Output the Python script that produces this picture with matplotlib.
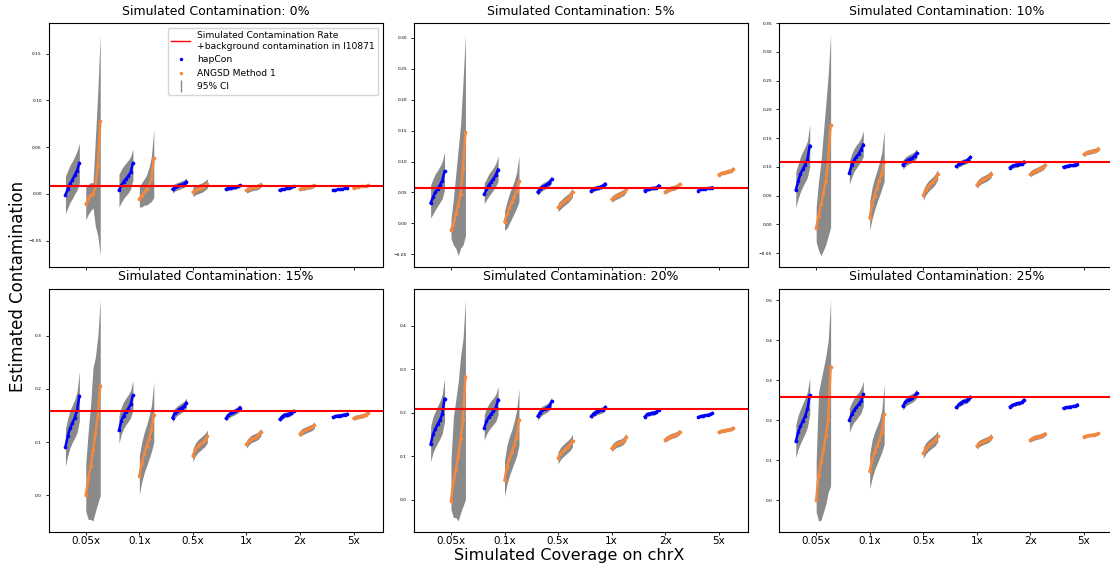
import numpy as np
import matplotlib
matplotlib.use("Agg")
import matplotlib.pyplot as plt
from matplotlib.lines import Line2D

coverages = ["0.05x", "0.1x", "0.5x", "1x", "2x", "5x"]
contamination = [0, 5, 10, 15, 20, 25]
background = 0.008  # background contamination in I10871

# sorted estimates / 95% CI read at 7 evenly spaced positions in each cluster
# one row per coverage

# ---- 0% ----
hap_est_0 = [[-0.001, 0.005, 0.011, 0.015, 0.020, 0.025, 0.033],
             [0.004, 0.009, 0.013, 0.016, 0.019, 0.023, 0.033],
             [0.005, 0.007, 0.008, 0.009, 0.010, 0.011, 0.013],
             [0.005, 0.006, 0.006, 0.007, 0.007, 0.008, 0.009],
             [0.004, 0.005, 0.005, 0.006, 0.006, 0.007, 0.008],
             [0.004, 0.004, 0.005, 0.005, 0.005, 0.006, 0.006]]
hap_lo_0 = [[-0.021, -0.015, -0.009, -0.005, 0.000, 0.004, 0.012],
            [-0.014, -0.009, -0.005, -0.002, 0.001, 0.005, 0.015],
            [0.001, 0.003, 0.004, 0.005, 0.006, 0.007, 0.009],
            [0.003, 0.004, 0.004, 0.005, 0.005, 0.006, 0.007],
            [0.0025, 0.0035, 0.0035, 0.0045, 0.0045, 0.0055, 0.0065],
            [0.003, 0.003, 0.004, 0.004, 0.004, 0.005, 0.005]]
hap_hi_0 = [[0.019, 0.025, 0.031, 0.035, 0.040, 0.046, 0.054],
            [0.021, 0.026, 0.030, 0.033, 0.036, 0.040, 0.048],
            [0.009, 0.011, 0.012, 0.013, 0.014, 0.015, 0.017],
            [0.007, 0.008, 0.008, 0.009, 0.009, 0.010, 0.011],
            [0.0055, 0.0065, 0.0065, 0.0075, 0.0075, 0.0085, 0.0095],
            [0.005, 0.005, 0.006, 0.006, 0.006, 0.007, 0.007]]
ang_est_0 = [[-0.011, -0.006, -0.001, 0.000, 0.008, 0.030, 0.078],
             [-0.005, -0.002, 0.002, 0.005, 0.009, 0.016, 0.038],
             [0.002, 0.004, 0.005, 0.006, 0.007, 0.009, 0.011],
             [0.004, 0.005, 0.006, 0.007, 0.007, 0.008, 0.010],
             [0.005, 0.006, 0.006, 0.007, 0.007, 0.008, 0.009],
             [0.006, 0.007, 0.007, 0.008, 0.008, 0.008, 0.009]]
ang_lo_0 = [[-0.028, -0.022, -0.018, -0.015, -0.035, -0.045, -0.066],
            [-0.014, -0.014, -0.012, -0.012, -0.010, -0.008, -0.004],
            [-0.003, -0.001, 0.000, 0.001, 0.002, 0.004, 0.006],
            [0.001, 0.002, 0.003, 0.004, 0.004, 0.005, 0.007],
            [0.003, 0.004, 0.004, 0.005, 0.005, 0.006, 0.007],
            [0.005, 0.006, 0.006, 0.007, 0.007, 0.007, 0.008]]
ang_hi_0 = [[0.009, 0.010, 0.012, 0.012, 0.060, 0.110, 0.171],
            [0.008, 0.012, 0.016, 0.020, 0.028, 0.040, 0.069],
            [0.007, 0.009, 0.010, 0.011, 0.012, 0.014, 0.016],
            [0.007, 0.008, 0.009, 0.010, 0.010, 0.011, 0.013],
            [0.007, 0.008, 0.008, 0.009, 0.009, 0.010, 0.011],
            [0.007, 0.008, 0.008, 0.009, 0.009, 0.009, 0.010]]

# ---- 5% ----
hap_est_5 = [[0.033, 0.042, 0.050, 0.056, 0.062, 0.069, 0.084],
             [0.047, 0.055, 0.062, 0.067, 0.072, 0.078, 0.087],
             [0.051, 0.056, 0.059, 0.061, 0.063, 0.066, 0.071],
             [0.053, 0.056, 0.057, 0.058, 0.059, 0.061, 0.064],
             [0.053, 0.055, 0.056, 0.057, 0.057, 0.058, 0.061],
             [0.053, 0.055, 0.056, 0.056, 0.057, 0.057, 0.058]]
hap_lo_5 = [[0.009, 0.015, 0.022, 0.028, 0.034, 0.040, 0.055],
            [0.032, 0.038, 0.044, 0.049, 0.054, 0.060, 0.068],
            [0.045, 0.050, 0.053, 0.055, 0.057, 0.060, 0.065],
            [0.049, 0.052, 0.053, 0.054, 0.055, 0.057, 0.060],
            [0.050, 0.052, 0.053, 0.054, 0.054, 0.055, 0.058],
            [0.051, 0.053, 0.054, 0.054, 0.055, 0.055, 0.056]]
hap_hi_5 = [[0.062, 0.072, 0.080, 0.086, 0.092, 0.100, 0.115],
            [0.065, 0.072, 0.080, 0.085, 0.090, 0.097, 0.109],
            [0.057, 0.062, 0.065, 0.067, 0.069, 0.072, 0.077],
            [0.057, 0.060, 0.061, 0.062, 0.063, 0.065, 0.068],
            [0.056, 0.058, 0.059, 0.060, 0.060, 0.061, 0.064],
            [0.055, 0.057, 0.058, 0.058, 0.059, 0.059, 0.060]]
ang_est_5 = [[-0.010, -0.002, 0.015, 0.030, 0.048, 0.090, 0.147],
             [0.003, 0.015, 0.025, 0.034, 0.043, 0.053, 0.068],
             [0.026, 0.030, 0.034, 0.037, 0.040, 0.044, 0.050],
             [0.039, 0.042, 0.044, 0.046, 0.048, 0.050, 0.055],
             [0.051, 0.054, 0.056, 0.057, 0.058, 0.060, 0.063],
             [0.079, 0.081, 0.082, 0.083, 0.084, 0.085, 0.088]]
ang_lo_5 = [[-0.024, -0.035, -0.040, -0.052, -0.040, -0.035, -0.020],
            [-0.011, -0.008, 0.000, 0.008, 0.016, 0.025, 0.035],
            [0.019, 0.023, 0.027, 0.030, 0.033, 0.037, 0.043],
            [0.034, 0.037, 0.039, 0.041, 0.043, 0.045, 0.050],
            [0.047, 0.050, 0.052, 0.053, 0.054, 0.056, 0.059],
            [0.076, 0.078, 0.079, 0.080, 0.081, 0.082, 0.085]]
ang_hi_5 = [[0.006, 0.040, 0.080, 0.120, 0.160, 0.230, 0.306],
            [0.020, 0.035, 0.048, 0.058, 0.068, 0.082, 0.109],
            [0.033, 0.037, 0.041, 0.044, 0.047, 0.051, 0.057],
            [0.044, 0.047, 0.049, 0.051, 0.053, 0.055, 0.060],
            [0.055, 0.058, 0.060, 0.061, 0.062, 0.064, 0.067],
            [0.082, 0.084, 0.085, 0.086, 0.087, 0.088, 0.091]]

# ---- 10% ----
hap_est_10 = [[0.060, 0.075, 0.088, 0.096, 0.104, 0.113, 0.137],
              [0.090, 0.103, 0.112, 0.118, 0.123, 0.130, 0.139],
              [0.104, 0.109, 0.112, 0.114, 0.116, 0.119, 0.124],
              [0.101, 0.105, 0.107, 0.109, 0.110, 0.113, 0.117],
              [0.099, 0.102, 0.103, 0.104, 0.105, 0.106, 0.109],
              [0.100, 0.101, 0.102, 0.103, 0.103, 0.104, 0.105]]
hap_lo_10 = [[0.030, 0.045, 0.057, 0.066, 0.074, 0.082, 0.100],
             [0.070, 0.082, 0.092, 0.098, 0.104, 0.110, 0.118],
             [0.096, 0.101, 0.104, 0.106, 0.108, 0.111, 0.116],
             [0.096, 0.100, 0.102, 0.104, 0.105, 0.108, 0.112],
             [0.095, 0.098, 0.099, 0.100, 0.101, 0.102, 0.105],
             [0.097, 0.098, 0.099, 0.100, 0.100, 0.101, 0.102]]
hap_hi_10 = [[0.092, 0.105, 0.118, 0.127, 0.135, 0.145, 0.174],
             [0.110, 0.123, 0.132, 0.138, 0.143, 0.150, 0.163],
             [0.112, 0.117, 0.120, 0.122, 0.124, 0.127, 0.132],
             [0.106, 0.110, 0.112, 0.114, 0.115, 0.118, 0.122],
             [0.103, 0.106, 0.107, 0.108, 0.109, 0.110, 0.113],
             [0.103, 0.104, 0.105, 0.106, 0.106, 0.107, 0.108]]
ang_est_10 = [[-0.006, 0.015, 0.035, 0.055, 0.075, 0.110, 0.173],
              [0.012, 0.035, 0.050, 0.063, 0.075, 0.090, 0.109],
              [0.051, 0.060, 0.066, 0.070, 0.074, 0.079, 0.087],
              [0.069, 0.074, 0.077, 0.079, 0.081, 0.084, 0.088],
              [0.088, 0.091, 0.093, 0.095, 0.097, 0.099, 0.103],
              [0.122, 0.125, 0.126, 0.127, 0.128, 0.129, 0.132]]
ang_lo_10 = [[-0.030, -0.045, -0.054, -0.045, -0.035, -0.020, -0.005],
             [-0.010, 0.010, 0.025, 0.038, 0.050, 0.062, 0.075],
             [0.042, 0.051, 0.057, 0.061, 0.065, 0.070, 0.078],
             [0.063, 0.068, 0.071, 0.073, 0.075, 0.078, 0.082],
             [0.083, 0.086, 0.088, 0.090, 0.092, 0.094, 0.098],
             [0.118, 0.121, 0.122, 0.123, 0.124, 0.125, 0.128]]
ang_hi_10 = [[0.030, 0.075, 0.110, 0.160, 0.210, 0.260, 0.331],
             [0.040, 0.065, 0.080, 0.093, 0.108, 0.125, 0.163],
             [0.060, 0.069, 0.075, 0.079, 0.083, 0.088, 0.096],
             [0.075, 0.080, 0.083, 0.085, 0.087, 0.090, 0.094],
             [0.093, 0.096, 0.098, 0.100, 0.102, 0.104, 0.108],
             [0.126, 0.129, 0.130, 0.131, 0.132, 0.133, 0.136]]

# ---- 15% ----
hap_est_15 = [[0.091, 0.112, 0.126, 0.136, 0.146, 0.160, 0.187],
              [0.122, 0.140, 0.150, 0.157, 0.163, 0.171, 0.188],
              [0.146, 0.155, 0.159, 0.162, 0.165, 0.168, 0.174],
              [0.145, 0.151, 0.154, 0.156, 0.158, 0.161, 0.165],
              [0.143, 0.148, 0.151, 0.152, 0.153, 0.155, 0.158],
              [0.147, 0.149, 0.150, 0.150, 0.151, 0.152, 0.153]]
hap_lo_15 = [[0.055, 0.075, 0.090, 0.100, 0.108, 0.118, 0.140],
             [0.098, 0.115, 0.126, 0.133, 0.139, 0.146, 0.160],
             [0.137, 0.146, 0.150, 0.153, 0.156, 0.159, 0.165],
             [0.139, 0.145, 0.148, 0.150, 0.152, 0.155, 0.159],
             [0.138, 0.143, 0.146, 0.147, 0.148, 0.150, 0.153],
             [0.144, 0.146, 0.147, 0.147, 0.148, 0.149, 0.150]]
hap_hi_15 = [[0.125, 0.145, 0.160, 0.170, 0.180, 0.195, 0.233],
             [0.150, 0.166, 0.176, 0.183, 0.189, 0.197, 0.216],
             [0.155, 0.164, 0.168, 0.171, 0.174, 0.177, 0.183],
             [0.151, 0.157, 0.160, 0.162, 0.164, 0.167, 0.171],
             [0.148, 0.153, 0.156, 0.157, 0.158, 0.160, 0.163],
             [0.150, 0.152, 0.153, 0.153, 0.154, 0.155, 0.156]]
ang_est_15 = [[0.000, 0.030, 0.055, 0.085, 0.115, 0.150, 0.206],
              [0.037, 0.060, 0.078, 0.092, 0.106, 0.122, 0.152],
              [0.075, 0.086, 0.092, 0.096, 0.100, 0.104, 0.111],
              [0.096, 0.102, 0.106, 0.108, 0.110, 0.113, 0.119],
              [0.116, 0.120, 0.122, 0.124, 0.126, 0.128, 0.132],
              [0.145, 0.147, 0.148, 0.149, 0.150, 0.152, 0.155]]
ang_lo_15 = [[-0.030, -0.045, -0.045, -0.048, -0.030, -0.015, 0.000],
             [0.002, 0.025, 0.042, 0.055, 0.068, 0.082, 0.100],
             [0.063, 0.074, 0.080, 0.084, 0.088, 0.092, 0.099],
             [0.089, 0.095, 0.099, 0.101, 0.103, 0.106, 0.112],
             [0.110, 0.114, 0.116, 0.118, 0.120, 0.122, 0.126],
             [0.141, 0.143, 0.144, 0.145, 0.146, 0.148, 0.151]]
ang_hi_15 = [[0.060, 0.120, 0.170, 0.240, 0.260, 0.300, 0.368],
             [0.075, 0.100, 0.118, 0.132, 0.148, 0.168, 0.213],
             [0.087, 0.098, 0.104, 0.108, 0.112, 0.116, 0.123],
             [0.103, 0.109, 0.113, 0.115, 0.117, 0.120, 0.126],
             [0.122, 0.126, 0.128, 0.130, 0.132, 0.134, 0.138],
             [0.149, 0.151, 0.152, 0.153, 0.154, 0.156, 0.159]]

# ---- 20% ----
hap_est_20 = [[0.127, 0.150, 0.162, 0.173, 0.183, 0.197, 0.232],
              [0.165, 0.180, 0.190, 0.197, 0.203, 0.211, 0.230],
              [0.192, 0.200, 0.205, 0.208, 0.211, 0.215, 0.226],
              [0.192, 0.198, 0.201, 0.203, 0.205, 0.207, 0.212],
              [0.191, 0.196, 0.198, 0.199, 0.200, 0.202, 0.207],
              [0.190, 0.192, 0.193, 0.194, 0.195, 0.196, 0.199]]
hap_lo_20 = [[0.087, 0.108, 0.120, 0.130, 0.140, 0.152, 0.180],
             [0.137, 0.150, 0.160, 0.167, 0.173, 0.180, 0.195],
             [0.182, 0.190, 0.195, 0.198, 0.201, 0.205, 0.216],
             [0.185, 0.191, 0.194, 0.196, 0.198, 0.200, 0.205],
             [0.186, 0.191, 0.193, 0.194, 0.195, 0.197, 0.202],
             [0.187, 0.189, 0.190, 0.191, 0.192, 0.193, 0.196]]
hap_hi_20 = [[0.168, 0.190, 0.203, 0.215, 0.226, 0.242, 0.279],
             [0.195, 0.210, 0.220, 0.228, 0.234, 0.242, 0.260],
             [0.202, 0.210, 0.215, 0.218, 0.221, 0.225, 0.236],
             [0.199, 0.205, 0.208, 0.210, 0.212, 0.214, 0.219],
             [0.196, 0.201, 0.203, 0.204, 0.205, 0.207, 0.212],
             [0.193, 0.195, 0.196, 0.197, 0.198, 0.199, 0.202]]
ang_est_20 = [[-0.003, 0.040, 0.068, 0.100, 0.140, 0.185, 0.283],
              [0.045, 0.075, 0.095, 0.110, 0.125, 0.145, 0.184],
              [0.096, 0.106, 0.112, 0.117, 0.122, 0.127, 0.136],
              [0.118, 0.124, 0.128, 0.130, 0.132, 0.136, 0.144],
              [0.138, 0.142, 0.145, 0.147, 0.149, 0.151, 0.156],
              [0.155, 0.158, 0.159, 0.160, 0.161, 0.162, 0.165]]
ang_lo_20 = [[-0.022, -0.041, -0.041, -0.049, -0.030, -0.015, 0.000],
             [0.008, 0.035, 0.055, 0.070, 0.085, 0.100, 0.125],
             [0.082, 0.092, 0.098, 0.103, 0.108, 0.113, 0.122],
             [0.110, 0.116, 0.120, 0.122, 0.124, 0.128, 0.136],
             [0.132, 0.136, 0.139, 0.141, 0.143, 0.145, 0.150],
             [0.151, 0.154, 0.155, 0.156, 0.157, 0.158, 0.161]]
ang_hi_20 = [[0.090, 0.190, 0.230, 0.270, 0.330, 0.370, 0.460],
             [0.090, 0.125, 0.145, 0.160, 0.180, 0.205, 0.254],
             [0.110, 0.120, 0.126, 0.131, 0.136, 0.141, 0.150],
             [0.126, 0.132, 0.136, 0.138, 0.140, 0.144, 0.152],
             [0.144, 0.148, 0.151, 0.153, 0.155, 0.157, 0.162],
             [0.159, 0.162, 0.163, 0.164, 0.165, 0.166, 0.169]]

# ---- 25% ----
hap_est_25 = [[0.147, 0.170, 0.185, 0.198, 0.210, 0.228, 0.262],
              [0.200, 0.215, 0.225, 0.232, 0.240, 0.248, 0.265],
              [0.236, 0.245, 0.250, 0.253, 0.256, 0.260, 0.268],
              [0.232, 0.240, 0.244, 0.247, 0.249, 0.252, 0.258],
              [0.234, 0.238, 0.240, 0.242, 0.243, 0.245, 0.251],
              [0.230, 0.232, 0.233, 0.234, 0.235, 0.236, 0.239]]
hap_lo_25 = [[0.106, 0.128, 0.142, 0.155, 0.167, 0.183, 0.215],
             [0.170, 0.185, 0.195, 0.202, 0.210, 0.218, 0.235],
             [0.225, 0.234, 0.239, 0.242, 0.245, 0.249, 0.257],
             [0.225, 0.233, 0.237, 0.240, 0.242, 0.245, 0.251],
             [0.229, 0.233, 0.235, 0.237, 0.238, 0.240, 0.246],
             [0.227, 0.229, 0.230, 0.231, 0.232, 0.233, 0.236]]
hap_hi_25 = [[0.190, 0.212, 0.228, 0.242, 0.255, 0.272, 0.306],
             [0.230, 0.245, 0.255, 0.263, 0.270, 0.280, 0.298],
             [0.247, 0.256, 0.261, 0.264, 0.267, 0.271, 0.279],
             [0.239, 0.247, 0.251, 0.254, 0.256, 0.259, 0.265],
             [0.239, 0.243, 0.245, 0.247, 0.248, 0.250, 0.256],
             [0.233, 0.235, 0.236, 0.237, 0.238, 0.239, 0.242]]
ang_est_25 = [[0.000, 0.060, 0.095, 0.125, 0.160, 0.200, 0.334],
              [0.072, 0.100, 0.120, 0.135, 0.150, 0.170, 0.215],
              [0.118, 0.129, 0.136, 0.141, 0.146, 0.151, 0.160],
              [0.136, 0.142, 0.145, 0.148, 0.150, 0.153, 0.159],
              [0.151, 0.155, 0.157, 0.159, 0.160, 0.162, 0.166],
              [0.159, 0.161, 0.162, 0.163, 0.164, 0.165, 0.167]]
ang_lo_25 = [[-0.030, -0.052, -0.050, -0.030, -0.010, 0.020, 0.035],
             [0.028, 0.055, 0.075, 0.090, 0.105, 0.120, 0.140],
             [0.104, 0.115, 0.122, 0.127, 0.132, 0.137, 0.146],
             [0.128, 0.134, 0.137, 0.140, 0.142, 0.145, 0.151],
             [0.145, 0.149, 0.151, 0.153, 0.154, 0.156, 0.160],
             [0.155, 0.157, 0.158, 0.159, 0.160, 0.161, 0.163]]
ang_hi_25 = [[0.100, 0.270, 0.300, 0.330, 0.360, 0.400, 0.502],
             [0.115, 0.150, 0.170, 0.185, 0.200, 0.225, 0.290],
             [0.132, 0.143, 0.150, 0.155, 0.160, 0.165, 0.174],
             [0.144, 0.150, 0.153, 0.156, 0.158, 0.161, 0.167],
             [0.157, 0.161, 0.163, 0.165, 0.166, 0.168, 0.172],
             [0.163, 0.165, 0.166, 0.167, 0.168, 0.169, 0.171]]

panels = [
    (hap_est_0, hap_lo_0, hap_hi_0, ang_est_0, ang_lo_0, ang_hi_0),
    (hap_est_5, hap_lo_5, hap_hi_5, ang_est_5, ang_lo_5, ang_hi_5),
    (hap_est_10, hap_lo_10, hap_hi_10, ang_est_10, ang_lo_10, ang_hi_10),
    (hap_est_15, hap_lo_15, hap_hi_15, ang_est_15, ang_lo_15, ang_hi_15),
    (hap_est_20, hap_lo_20, hap_hi_20, ang_est_20, ang_lo_20, ang_hi_20),
    (hap_est_25, hap_lo_25, hap_hi_25, ang_est_25, ang_lo_25, ang_hi_25),
]

ci_color = "#8a8a8a"
hap_color = "blue"
ang_color = "#f4883f"

fig, axes = plt.subplots(2, 3, figsize=(11.1, 5.63), dpi=100, sharex=True)
fig.subplots_adjust(left=0.044, right=1.003, bottom=0.055, top=0.959,
                    wspace=0.093, hspace=0.09)

frac = np.linspace(0, 1, 7)
for ax, c, (he, hl, hh, ae, al, ah) in zip(axes.flat, contamination, panels):
    for k in range(len(coverages)):
        xh = k + 1 - 0.38 + 0.26 * frac
        xa = k + 1 + 0.0 + 0.27 * frac
        ax.fill_between(xh, hl[k], hh[k], color=ci_color, lw=0)
        ax.fill_between(xa, al[k], ah[k], color=ci_color, lw=0)
        ax.plot(xh, he[k], color=hap_color, lw=1.8, marker="o", ms=1.6)
        ax.plot(xa, ae[k], color=ang_color, lw=1.8, marker="o", ms=1.6)
    ax.axhline(c / 100 + background, color="red", lw=1.5)
    ax.set_title(f"Simulated Contamination: {c}%", fontsize=9)
    ax.tick_params(axis="y", labelsize=3.2, length=2.5, width=0.6, pad=2.5)
    ax.tick_params(axis="x", labelsize=7.5, length=2.2, width=0.6, pad=0.8)
    ax.set_xticks(range(1, len(coverages) + 1))
    ax.set_xticklabels(coverages)
    ax.set_xlim(0.31, 6.55)

handles = [
    Line2D([], [], color="red", lw=1.0),
    Line2D([], [], color=hap_color, marker=".", ls="none", ms=3),
    Line2D([], [], color=ang_color, marker=".", ls="none", ms=3),
    Line2D([], [], color=ci_color, marker="|", ls="none", ms=8),
]
labels = ["Simulated Contamination Rate\n+background contamination in I10871",
          "hapCon", "ANGSD Method 1", "95% CI"]
axes[0, 0].legend(handles, labels, loc="upper right", fontsize=6.6)

fig.text(0.513, 0.006, "Simulated Coverage on chrX", ha="center", va="baseline", fontsize=11.5)
fig.text(0.016, 0.492, "Estimated Contamination", ha="center", va="center",
         rotation=90, fontsize=12)

fig.savefig("out.png", dpi=100)
